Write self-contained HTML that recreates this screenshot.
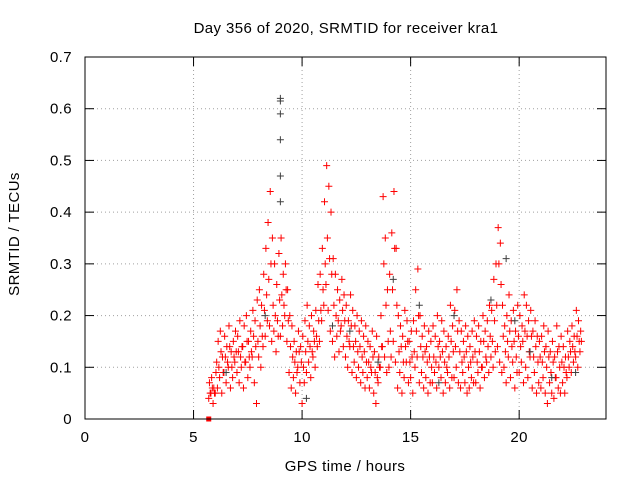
<!DOCTYPE html>
<html><head><meta charset="utf-8"><style>
body{margin:0;background:#fff}
svg{display:block;font-family:"Liberation Sans",Arial,sans-serif}
svg text{letter-spacing:0.4px}
</style></head><body>
<svg id="chart" width="640" height="480" viewBox="0 0 640 480" xmlns="http://www.w3.org/2000/svg">
<rect width="640" height="480" fill="#fff"/>
<g id="grid"></g>
<g id="marks"></g>
<g id="axes"></g>
<text x="346" y="33" font-size="15" text-anchor="middle">Day 356 of 2020, SRMTID for receiver kra1</text>
<text x="345" y="471" font-size="15" text-anchor="middle">GPS time / hours</text>
<text transform="translate(19,234) rotate(-90)" font-size="15" text-anchor="middle">SRMTID / TECUs</text>
</svg>
<script>
const xTicks=[0,5,10,15,20];
const yTicks=[0,0.1,0.2,0.3,0.4,0.5,0.6,0.7];
const yTickLabels=["0","0.1","0.2","0.3","0.4","0.5","0.6","0.7"];
const hours=[5.7,5.8,5.9,
6.0,6.1,6.2,6.3,6.4,6.5,6.6,6.7,6.8,6.9,
7.0,7.1,7.2,7.3,7.4,7.5,7.6,7.7,7.8,7.9,
8.0,8.1,8.2,8.3,8.4,8.5,8.6,8.7,8.8,8.9,
9.0,9.1,9.2,9.3,9.4,9.5,9.6,9.7,9.8,9.9,
10.0,10.1,10.2,10.3,10.4,10.5,10.6,10.7,10.8,10.9,
11.0,11.1,11.2,11.3,11.4,11.5,11.6,11.7,11.8,11.9,
12.0,12.1,12.2,12.3,12.4,12.5,12.6,12.7,12.8,12.9,
13.0,13.1,13.2,13.3,13.4,13.5,13.6,13.7,13.8,13.9,
14.0,14.1,14.2,14.3,14.4,14.5,14.6,14.7,14.8,14.9,
15.0,15.1,15.2,15.3,15.4,15.5,15.6,15.7,15.8,15.9,
16.0,16.1,16.2,16.3,16.4,16.5,16.6,16.7,16.8,16.9,
17.0,17.1,17.2,17.3,17.4,17.5,17.6,17.7,17.8,17.9,
18.0,18.1,18.2,18.3,18.4,18.5,18.6,18.7,18.8,18.9,
19.0,19.1,19.2,19.3,19.4,19.5,19.6,19.7,19.8,19.9,
20.0,20.1,20.2,20.3,20.4,20.5,20.6,20.7,20.8,20.9,
21.0,21.1,21.2,21.3,21.4,21.5,21.6,21.7,21.8,21.9,
22.0,22.1,22.2,22.3,22.4,22.5,22.6,22.7,22.8];
const valsHigh=[.07,.08,.06,
.09,.15,.17,.12,.16,.14,.18,.13,.15,.17,
.16,.19,.14,.18,.20,.15,.17,.21,.19,.23,
.25,.22,.28,.33,.38,.44,.35,.30,.26,.32,
.35,.28,.30,.25,.20,.18,.15,.13,.17,.14,
.16,.19,.22,.18,.20,.17,.21,.26,.28,.33,
.42,.49,.45,.40,.31,.28,.25,.23,.27,.24,
.22,.19,.24,.21,.18,.20,.17,.19,.16,.18,
.15,.14,.17,.13,.16,.12,.20,.43,.35,.25,
.28,.36,.44,.33,.20,.18,.16,.21,.19,.15,
.17,.19,.25,.29,.20,.16,.18,.14,.17,.15,
.18,.16,.20,.15,.19,.17,.14,.16,.22,.18,
.21,.25,.19,.17,.15,.18,.16,.14,.17,.19,
.16,.18,.15,.20,.17,.19,.22,.21,.27,.30,
.37,.34,.22,.18,.20,.24,.19,.21,.17,.22,
.20,.18,.24,.22,.19,.21,.17,.19,.16,.15,
.16,.18,.14,.17,.13,.15,.12,.18,.14,.16,
.14,.12,.17,.15,.18,.16,.21,.19,.17];
const valsMid=[.05,.06,.05,
.11,.10,.13,.09,.12,.11,.14,.10,.12,.13,
.13,.12,.14,.11,.15,.12,.13,.16,.14,.15,
.18,.16,.21,.24,.27,.30,.22,.20,.19,.23,
.24,.22,.25,.19,.14,.12,.11,.09,.13,.11,
.10,.13,.15,.14,.13,.15,.16,.19,.21,.25,
.30,.35,.31,.28,.22,.20,.19,.17,.21,.19,
.16,.15,.18,.14,.15,.13,.14,.12,.13,.11,
.11,.10,.12,.09,.08,.10,.14,.30,.22,.15,
.17,.25,.33,.22,.13,.14,.11,.14,.15,.11,
.12,.13,.17,.20,.14,.12,.13,.11,.12,.10,
.12,.11,.14,.12,.13,.11,.10,.12,.15,.13,
.14,.17,.13,.11,.12,.13,.10,.11,.12,.13,
.11,.13,.10,.15,.12,.14,.16,.15,.19,.22,
.30,.26,.16,.13,.15,.17,.14,.15,.12,.16,
.14,.15,.17,.16,.13,.16,.12,.14,.11,.12,
.11,.13,.10,.12,.09,.11,.08,.13,.10,.11,
.10,.09,.12,.13,.14,.13,.16,.15,.15];
const valsLow=[.04,.05,.03,
.05,.06,.08,.05,.09,.07,.10,.06,.08,.11,
.09,.07,.10,.06,.11,.08,.10,.12,.07,.03,
.12,.10,.14,.16,.19,.18,.15,.17,.13,.16,
.16,.18,.20,.15,.09,.06,.08,.05,.10,.07,
.03,.07,.09,.11,.08,.12,.10,.14,.15,.19,
.22,.26,.21,.17,.15,.12,.16,.13,.18,.14,
.12,.10,.14,.09,.11,.08,.10,.07,.09,.06,
.08,.06,.09,.05,.03,.07,.10,.14,.12,.09,
.10,.12,.15,.11,.06,.09,.05,.08,.11,.07,
.08,.05,.10,.12,.07,.09,.06,.08,.05,.07,
.07,.09,.06,.10,.08,.05,.07,.09,.06,.08,
.08,.10,.07,.06,.09,.07,.05,.06,.08,.07,
.07,.09,.06,.10,.08,.11,.09,.12,.10,.13,
.14,.11,.09,.10,.07,.12,.08,.11,.06,.09,
.09,.11,.07,.10,.08,.12,.06,.09,.05,.07,
.06,.08,.05,.03,.07,.05,.04,.08,.06,.05,
.07,.05,.08,.10,.09,.11,.12,.10,.13];
const grayHours=[9.0,9.0,9.0,9.0,9.0,9.0,19.4,6.5,8.3,12.2,14.2,15.4,17.0,18.7,20.5,21.5,22.6,10.2,11.4,13.5,16.3,19.8];
const grayVals=[.62,.615,.59,.54,.47,.42,.31,.09,.20,.17,.27,.22,.20,.23,.13,.08,.09,.04,.18,.11,.07,.19];
const outlierHours=[5.7];
const outlierVals=[0];

const X0=85,X1=606,Y0=419,Y1=57;
const xMin=0,xMax=24,yMin=0,yMax=0.7;
function xs(h){return X0+(h-xMin)/(xMax-xMin)*(X1-X0);}
function ys(v){return Y0-(v-yMin)/(yMax-yMin)*(Y0-Y1);}
const NS="http://www.w3.org/2000/svg";
function mk(tag,attrs,parent){const e=document.createElementNS(NS,tag);for(const k in attrs)e.setAttribute(k,attrs[k]);parent.appendChild(e);return e;}
const grid=document.getElementById('grid'),marks=document.getElementById('marks'),axes=document.getElementById('axes');

yTicks.forEach((v,i)=>{
  const y=ys(v);
  if(i>0&&i<yTicks.length-1){const g=mk('line',{x1:X0,x2:X1,y1:y,y2:y,stroke:'#a0a0a0','stroke-width':1,'stroke-dasharray':'1,3'},grid);
  
  }
  mk('line',{x1:X0,x2:X0+9,y1:y,y2:y,stroke:'#000'},axes);
  mk('line',{x1:X1,x2:X1-9,y1:y,y2:y,stroke:'#000'},axes);
  const t=mk('text',{x:X0-13,y:y+5,'font-size':15,'text-anchor':'end'},axes);t.textContent=yTickLabels[i];
  
  
});
xTicks.forEach(h=>{
  const x=xs(h);
  if(h>0){const g=mk('line',{x1:x,x2:x,y1:Y0,y2:Y1,stroke:'#a0a0a0','stroke-width':1,'stroke-dasharray':'1,3'},grid);
  
  }
  mk('line',{x1:x,x2:x,y1:Y0,y2:Y0-9,stroke:'#000'},axes);
  mk('line',{x1:x,x2:x,y1:Y1,y2:Y1+9,stroke:'#000'},axes);
  const t=mk('text',{x:x,y:Y0+23,'font-size':15,'text-anchor':'middle'},axes);t.textContent=String(h);
  
  
});
const frame=mk('rect',{x:X0,y:Y1,width:X1-X0,height:Y0-Y1,fill:'none',stroke:'#000'},axes);



function cross(h,v,color,name){
  const x=xs(h),y=ys(v);
  const p=mk('path',{d:`M${x-3.5},${y}h7M${x},${y-3.5}v7`,stroke:color,'stroke-width':1,fill:'none'},marks);
  
  
}
hours.forEach((h,i)=>{
  cross(h,valsLow[i],'#ff0000','srmtid-point');
  cross(h+0.066,valsMid[i],'#ff0000','srmtid-point');
  cross(h+0.033,valsHigh[i],'#ff0000','srmtid-point');
});
grayHours.forEach((h,i)=>cross(h,grayVals[i],'#404040','srmtid-point-gray'));
outlierHours.forEach((h,i)=>{
  const r=mk('rect',{x:xs(h)-2.5,y:ys(outlierVals[i])-2.5,width:5,height:5,fill:'#ff0000'},marks);
  
  
});
</script>
</body></html>
